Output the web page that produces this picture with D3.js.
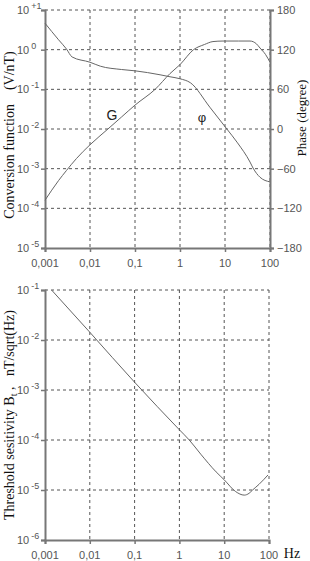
<!DOCTYPE html>
<html>
<head>
<meta charset="utf-8">
<script src="https://cdn.jsdelivr.net/npm/d3@7"></script>
<style>
body { margin: 0; background: #fff; }
svg { display: block; }
</style>
</head>
<body>
<svg id="chart" width="310" height="561"></svg>
<script>
// frequencies (Hz) and values
var gFreq = [0.001, 0.002, 0.003, 0.005, 0.01, 0.025, 0.05, 0.1, 0.28, 0.6, 1, 2, 3.5, 5.4, 9, 20, 36, 50, 60, 80, 100];
var gVal = [1.6e-4, 5e-4, 9e-4, 1.8e-3, 4e-3, 1e-2, 2e-2, 4e-2, 0.1, 0.25, 0.42, 1.0, 1.35, 1.6, 1.65, 1.65, 1.65, 1.4, 1.1, 0.75, 0.48];

var phFreq = [0.001, 0.002, 0.003, 0.004, 0.01, 0.017, 0.05, 0.1, 0.36, 0.6, 1, 1.7, 4.6, 11, 19, 36, 42, 60, 100];
var phVal = [160, 135, 121, 109, 101, 95, 90, 88, 82, 79, 76, 70, 33, 0, -21, -50, -59, -73, -80];

var bFreq = [0.0014, 0.01, 0.1, 1, 1.66, 3, 6.6, 10, 18, 28, 36, 43, 60, 95];
var bVal = [0.1, 0.0143, 1.43e-3, 1.6e-4, 1.0e-4, 5.2e-5, 2.3e-5, 1.6e-5, 9.3e-6, 7.9e-6, 8.6e-6, 1.0e-5, 1.3e-5, 2.0e-5];

var xTicks = [0.001, 0.01, 0.1, 1, 10, 100];
var xTickLabels = ['0,001', '0,01', '0,1', '1', '10', '100'];
var gTicks = [10, 1, 0.1, 0.01, 0.001, 1e-4, 1e-5];
var gTickExp = ['+1', '0', '-1', '-2', '-3', '-4', '-5'];
var phTicks = [180, 120, 60, 0, -60, -120, -180];
var bTicks = [0.1, 0.01, 0.001, 1e-4, 1e-5, 1e-6];
var bTickExp = ['-1', '-2', '-3', '-4', '-5', '-6'];

var svg = d3.select('#chart');
var gridColor = '#555';
var axisColor = '#777';
var lineColor = '#666';
var labelFont = 'Liberation Sans, Arial, sans-serif';
var titleFont = 'Liberation Serif, Times New Roman, serif';

var zip = function(fs, vs) { return fs.map(function(f, i) { return {f: f, v: vs[i]}; }); };

var drawPanel = function(o) {
    var x = d3.scaleLog().domain([0.001, 100]).range([o.left, o.right]);
    var y = d3.scaleLog().domain(o.yDomain).range([o.bottom, o.top]);
    var g = svg.append('g');

    // dashed grid
    g.selectAll('.vg').data(xTicks.slice(1)).enter().append('line')
        .attr('x1', function(d) { return x(d); }).attr('x2', function(d) { return x(d); })
        .attr('y1', o.top).attr('y2', o.bottom)
        .attr('stroke', gridColor).attr('stroke-dasharray', '3,3');
    g.selectAll('.hg').data(o.yTicks.slice(0, -1)).enter().append('line')
        .attr('x1', o.left).attr('x2', o.right)
        .attr('y1', function(d) { return y(d); }).attr('y2', function(d) { return y(d); })
        .attr('stroke', gridColor).attr('stroke-dasharray', '3,3');

    // left & bottom axes
    var yAxis = d3.axisLeft(y).tickValues(o.yTicks).tickSize(4).tickFormat('');
    var xAxis = d3.axisBottom(x).tickValues(xTicks).tickSize(4).tickFormat('');
    var ya = g.append('g').attr('transform', 'translate(' + o.left + ',0)').call(yAxis);
    var xa = g.append('g').attr('transform', 'translate(0,' + o.bottom + ')').call(xAxis);
    [ya, xa].forEach(function(a) {
        a.select('.domain').attr('stroke', axisColor).attr('stroke-width', 2);
        a.selectAll('.tick line').attr('stroke', axisColor).attr('stroke-width', 1.5);
    });

    // y tick labels: 10 with exponent
    o.yTicks.forEach(function(t, i) {
        var tx = g.append('text').attr('x', o.labelX).attr('y', y(t) + 4)
            .attr('font-family', labelFont).attr('font-size', 11).attr('fill', '#555');
        tx.append('tspan').text('10');
        tx.append('tspan').attr('dx', 2).attr('dy', -5).attr('font-size', 9).text(o.yExp[i]);
    });
    // x tick labels
    g.selectAll('.xl').data(xTicks).enter().append('text')
        .attr('x', function(d) { return x(d); }).attr('y', o.bottom + 19)
        .attr('text-anchor', 'middle').attr('font-family', labelFont).attr('font-size', 11).attr('fill', '#555')
        .text(function(d, i) { return xTickLabels[i]; });

    var line = d3.line().x(function(d) { return x(d.f); }).y(function(d) { return y(d.v); }).curve(d3.curveMonotoneX);
    return {x: x, y: y, g: g, line: line};
};

// top panel: conversion function + phase
var topP = drawPanel({left: 45, right: 270, top: 10, bottom: 248, yDomain: [1e-5, 10],
    yTicks: gTicks, yExp: gTickExp, labelX: 17});
topP.g.append('path').datum(zip(gFreq, gVal)).attr('d', topP.line)
    .attr('fill', 'none').attr('stroke', lineColor).attr('stroke-width', 1);

var yPh = d3.scaleLinear().domain([-180, 180]).range([248, 10]);
var phAxis = d3.axisRight(yPh).tickValues(phTicks).tickSize(4).tickPadding(3);
var pa = svg.append('g').attr('transform', 'translate(270,0)').call(phAxis);
pa.select('.domain').attr('stroke', axisColor).attr('stroke-width', 2);
pa.selectAll('.tick line').attr('stroke', axisColor).attr('stroke-width', 1.5);
pa.selectAll('.tick text').attr('font-family', labelFont).attr('font-size', 11).attr('fill', '#555');
var phLine = d3.line().x(function(d) { return topP.x(d.f); }).y(function(d) { return yPh(d.v); }).curve(d3.curveMonotoneX);
svg.append('path').datum(zip(phFreq, phVal)).attr('d', phLine)
    .attr('fill', 'none').attr('stroke', lineColor).attr('stroke-width', 1);

svg.append('text').attr('x', 112).attr('y', 120).attr('text-anchor', 'middle')
    .attr('font-family', labelFont).attr('font-size', 14).attr('fill', '#222').text('G');
svg.append('text').attr('x', 202).attr('y', 122).attr('text-anchor', 'middle')
    .attr('font-family', labelFont).attr('font-size', 13).attr('fill', '#222').text('φ');

svg.append('text').attr('transform', 'translate(14,135) rotate(-90)').attr('text-anchor', 'middle')
    .attr('font-family', titleFont).attr('font-size', 14).attr('fill', '#111')
    .attr('xml:space', 'preserve').text('Conversion function    (V/nT)');
svg.append('text').attr('transform', 'translate(306,118) rotate(-90)').attr('text-anchor', 'middle')
    .attr('font-family', titleFont).attr('font-size', 13).attr('fill', '#111').text('Phase (degree)');

// bottom panel: threshold sensitivity
var botP = drawPanel({left: 45, right: 269, top: 290, bottom: 540, yDomain: [1e-6, 0.1],
    yTicks: bTicks, yExp: bTickExp, labelX: 17});
botP.g.append('path').datum(zip(bFreq, bVal)).attr('d', botP.line)
    .attr('fill', 'none').attr('stroke', lineColor).attr('stroke-width', 1);

var bt = svg.append('text').attr('transform', 'translate(14,415) rotate(-90)').attr('text-anchor', 'middle')
    .attr('font-family', titleFont).attr('font-size', 14).attr('fill', '#111').attr('xml:space', 'preserve');
bt.append('tspan').text('Threshold sesitivity B');
bt.append('tspan').attr('font-size', 10).attr('dy', 3).text('t');
bt.append('tspan').attr('dy', -3).text(' ,   nT/sqrt(Hz)');

svg.append('text').attr('x', 292).attr('y', 558).attr('text-anchor', 'middle')
    .attr('font-family', titleFont).attr('font-size', 14).attr('fill', '#111').text('Hz');
</script>
</body>
</html>
